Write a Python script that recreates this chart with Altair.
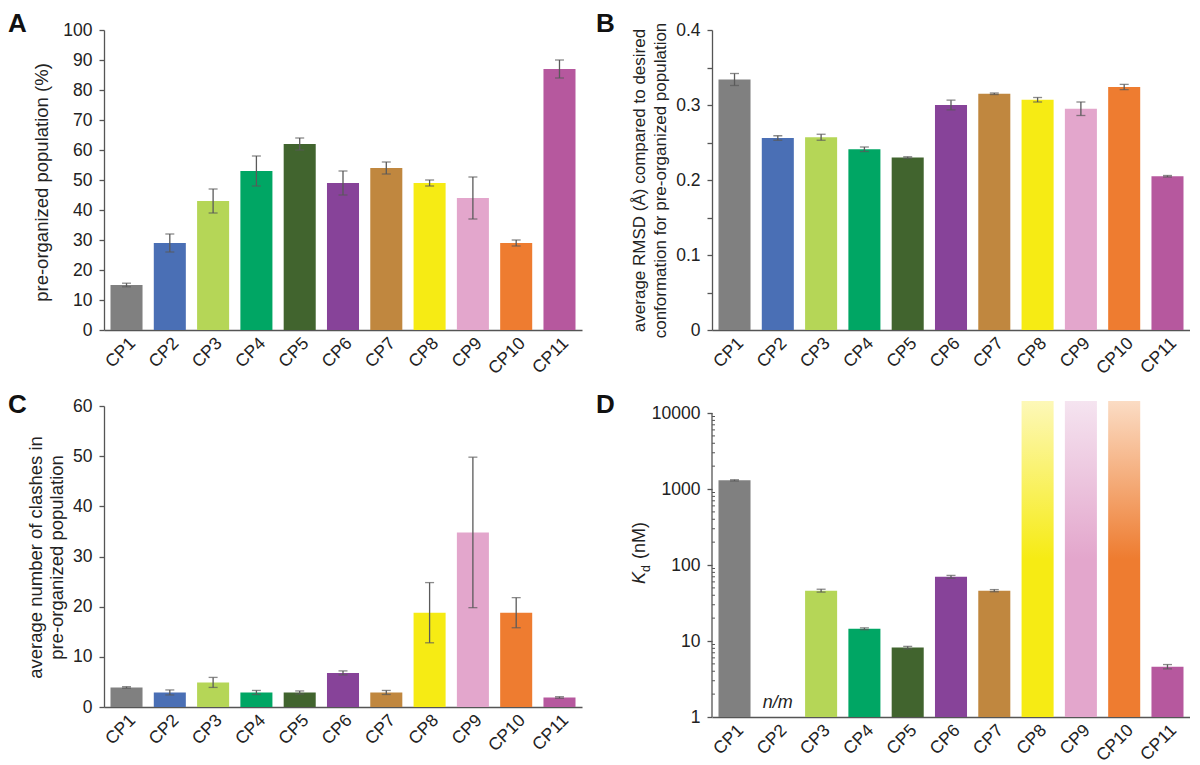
import altair as alt
import pandas as pd

# ---------------- data ----------------
categories = ["CP1", "CP2", "CP3", "CP4", "CP5", "CP6", "CP7", "CP8", "CP9", "CP10", "CP11"]
bar_colors = ["#808080", "#4a6fb5", "#b5d657", "#00a664", "#41642e", "#874399",
              "#c0873f", "#f6eb14", "#e3a6cc", "#ee7c30", "#b6589e"]

pop_mean = [15, 29, 43, 53, 62, 49, 54, 49, 44, 29, 87]
pop_err = [0.6, 3, 4, 5, 2, 4, 2, 1, 7, 1, 3]

rmsd_mean = [0.334, 0.256, 0.257, 0.241, 0.230, 0.300, 0.315, 0.307, 0.295, 0.324, 0.205]
rmsd_err = [0.008, 0.003, 0.004, 0.003, 0.001, 0.0065, 0.001, 0.003, 0.009, 0.0035, 0.001]

clash_mean = [3.9, 2.9, 4.9, 2.9, 2.9, 6.8, 2.9, 18.8, 34.8, 18.8, 1.9]
clash_err = [0.15, 0.5, 1.0, 0.4, 0.3, 0.4, 0.4, 6, 15, 3, 0.15]

kd_cats = ["CP1", "CP3", "CP4", "CP5", "CP6", "CP7", "CP11"]
kd_mean = [1300, 46, 14.5, 8.2, 70, 46, 4.6]
kd_err = [25, 2, 0.4, 0.3, 3, 1.5, 0.3]
kd_offscale = ["CP8", "CP9", "CP10"]
kd_offscale_full = ["#f6eb14", "#e3a6cc", "#ee7c30"]
kd_offscale_fade = ["#fdf8b8", "#f5e4f0", "#fbdcc4"]
kd_nm = ["CP2"]
kd_axis_max = 14400
kd_major = [1, 10, 100, 1000, 10000]
kd_minor = [2, 3, 4, 5, 6, 7, 8, 9,
            20, 30, 40, 50, 60, 70, 80, 90,
            200, 300, 400, 500, 600, 700, 800, 900,
            2000, 3000, 4000, 5000, 6000, 7000, 8000, 9000]

pop_ticks = [0, 10, 20, 30, 40, 50, 60, 70, 80, 90, 100]
rmsd_ticks = [0, 0.05, 0.1, 0.15, 0.2, 0.25, 0.3, 0.35, 0.4]
clash_ticks = [0, 10, 20, 30, 40, 50, 60]

# ---------------- style ----------------
FONT = "Liberation Sans"
AX = "#555555"
ERR = "#5a5a5a"
TXT = "#222222"
W = 478
H1 = 300
HC = 306
HD = 316

color_enc = alt.Color("cat:N", scale=alt.Scale(domain=categories, range=bar_colors), legend=None)


def xenc():
    return alt.X("cat:N", sort=categories,
                 scale=alt.Scale(domain=categories, paddingInner=0.26, paddingOuter=0.15),
                 axis=alt.Axis(title=None, labelAngle=-45, ticks=False, labelPadding=4,
                               labelFontSize=17.5))


def letter(t, dx, dy):
    return alt.Chart(pd.DataFrame({"t": [t]})).mark_text(
        font=FONT, fontSize=26, fontWeight="bold", align="left", baseline="alphabetic",
        color="#111111"
    ).encode(text="t:N", x=alt.value(dx), y=alt.value(dy))


def yaxis(values, title, tx, ty, tsize, **kw):
    return alt.Axis(values=values, labelOverlap=False, title=title, titleFontSize=tsize,
                    titleX=tx, titleY=ty, titleAngle=270, titleAlign="center",
                    titleBaseline="middle", **kw)


def bar_panel(means, errs, yscale, yax, w, h, let, lx, ly):
    df = pd.DataFrame({"cat": categories, "mean": means, "err": errs})
    df["lo"] = df["mean"] - df["err"]
    df["hi"] = df["mean"] + df["err"]
    base = alt.Chart(df).encode(x=xenc())
    bars = base.mark_bar().encode(y=alt.Y("mean:Q", scale=yscale, axis=yax), color=color_enc)
    rule = base.mark_rule(color=ERR, strokeWidth=1.3).encode(
        y=alt.Y("lo:Q", scale=yscale, axis=yax), y2="hi:Q")
    cap_lo = base.mark_tick(color=ERR, size=9, thickness=1.3, orient="horizontal").encode(
        y=alt.Y("lo:Q", scale=yscale, axis=yax))
    cap_hi = base.mark_tick(color=ERR, size=9, thickness=1.3, orient="horizontal").encode(
        y=alt.Y("hi:Q", scale=yscale, axis=yax))
    return alt.layer(bars, rule, cap_lo, cap_hi, letter(let, lx, ly)).properties(width=w, height=h)


# Panel A
axis_a = yaxis(pop_ticks, "pre-organized population (%)", -63, 152, 18.5)
panel_a = bar_panel(pop_mean, pop_err, alt.Scale(domain=[0, 100], nice=False),
                    axis_a, W, H1, "A", -96, 2)

# Panel B
axis_b = yaxis(rmsd_ticks, ["average RMSD (Å) compared to desired",
                            "conformation for pre-organized population"], -73, 150, 17,
               labelExpr="round(datum.value*100) % 10 == 0 ? format(datum.value, '.1~f') : ''")
panel_b = bar_panel(rmsd_mean, rmsd_err, alt.Scale(domain=[0, 0.4], nice=False),
                    axis_b, W, H1, "B", -116, 2)

# Panel C  (range leaves 5 px above the 60 tick so the panel lines up with D)
axis_c = yaxis(clash_ticks, ["average number of clashes in", "pre-organized population"],
               -69, 156, 18.5)
panel_c = bar_panel(clash_mean, clash_err, alt.Scale(domain=[0, 60], nice=False, range=[HC, 5]),
                    axis_c, W, HC, "C", -96, 12)

# Panel D
yscale_d = alt.Scale(type="log", domain=[1, kd_axis_max], nice=False)
axis_d = alt.Axis(values=kd_major, format="d", domain=False, title=None, labelOverlap=False)
kd_df = pd.DataFrame({"cat": kd_cats, "mean": kd_mean, "err": kd_err})
kd_df["lo"] = kd_df["mean"] - kd_df["err"]
kd_df["hi"] = kd_df["mean"] + kd_df["err"]
kd_base = alt.Chart(kd_df).encode(x=xenc())
d_bars = kd_base.mark_bar().encode(
    y=alt.Y("mean:Q", scale=yscale_d, axis=axis_d), y2=alt.datum(1), color=color_enc)
d_rule = kd_base.mark_rule(color=ERR, strokeWidth=1.3).encode(
    y=alt.Y("lo:Q", scale=yscale_d, axis=axis_d), y2="hi:Q")
d_cap_lo = kd_base.mark_tick(color=ERR, size=9, thickness=1.3, orient="horizontal").encode(
    y=alt.Y("lo:Q", scale=yscale_d, axis=axis_d))
d_cap_hi = kd_base.mark_tick(color=ERR, size=9, thickness=1.3, orient="horizontal").encode(
    y=alt.Y("hi:Q", scale=yscale_d, axis=axis_d))

grad_layers = []
for c, full, fade in zip(kd_offscale, kd_offscale_full, kd_offscale_fade):
    grad = alt.Gradient(
        gradient="linear", x1=0, x2=0, y1=1, y2=0,
        stops=[alt.GradientStop(offset=0, color=full),
               alt.GradientStop(offset=0.5, color=full),
               alt.GradientStop(offset=1, color=fade)])
    grad_layers.append(
        alt.Chart(pd.DataFrame({"cat": [c], "v": [kd_axis_max]})).mark_bar(color=grad).encode(
            x=xenc(), y=alt.Y("v:Q", scale=yscale_d, axis=axis_d), y2=alt.datum(1)))

nm_text = alt.Chart(pd.DataFrame({"cat": kd_nm, "label": ["n/m"]})).mark_text(
    font=FONT, fontSize=18, fontStyle="italic", baseline="bottom", dy=-5, color=TXT
).encode(x=xenc(), y=alt.datum(1), text="label:N")

d_axisline = alt.Chart(pd.DataFrame({"a": [kd_major[0]], "b": [kd_major[-1]]})).mark_rule(
    color=AX, strokeWidth=1.3).encode(x=alt.value(0), y=alt.Y("a:Q", scale=yscale_d, axis=axis_d),
                                      y2="b:Q")
d_minor = alt.Chart(pd.DataFrame({"m": kd_minor})).mark_rule(color=AX, strokeWidth=1).encode(
    x=alt.value(0), x2=alt.value(3), y=alt.Y("m:Q", scale=yscale_d, axis=axis_d))

t_k = alt.Chart(pd.DataFrame({"t": ["K"]})).mark_text(
    font=FONT, fontSize=18, fontStyle="italic", angle=270, align="left", baseline="middle", color=TXT
).encode(text="t:N", x=alt.value(-72), y=alt.value(183))
t_d = alt.Chart(pd.DataFrame({"t": ["d"]})).mark_text(
    font=FONT, fontSize=12.5, angle=270, align="left", baseline="middle", color=TXT
).encode(text="t:N", x=alt.value(-66), y=alt.value(171))
t_nm = alt.Chart(pd.DataFrame({"t": ["(nM)"]})).mark_text(
    font=FONT, fontSize=18, angle=270, align="left", baseline="middle", color=TXT
).encode(text="t:N", x=alt.value(-72), y=alt.value(158))

panel_d = alt.layer(
    d_bars, *grad_layers, d_rule, d_cap_lo, d_cap_hi, nm_text, d_axisline, d_minor,
    t_k, t_d, t_nm, letter("D", -116, 12)
).properties(width=W, height=HD)

chart = alt.concat(
    panel_a, panel_b, panel_c, panel_d,
    columns=2, spacing={"row": 71, "column": 130}, bounds="flush"
).properties(padding={"top": 3, "left": 0, "right": 0, "bottom": 0}).configure_view(
    stroke=None
).configure_axis(
    labelFont=FONT, titleFont=FONT, labelFontSize=17.5, titleFontSize=18,
    labelColor=TXT, titleColor=TXT, titleFontWeight="normal",
    domainColor=AX, tickColor=AX, domainWidth=1.3, tickWidth=1.3,
    grid=False
).configure_axisY(
    tickSize=5, labelPadding=7, titleLineHeight=21, labelOverlap=False
)

chart.save("out.html", embed_options={"renderer": "svg", "actions": False})
